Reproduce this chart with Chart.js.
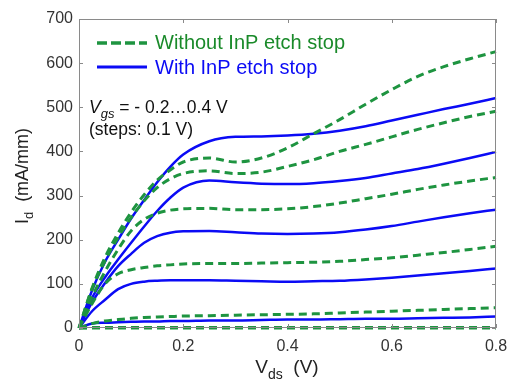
<!DOCTYPE html>
<html>
<head>
<meta charset="utf-8">
<script src="https://cdn.jsdelivr.net/npm/chart.js@4"></script>
<style>
  html, body { margin: 0; padding: 0; background: #fff; }
  #wrap { width: 508px; height: 390px; }
</style>
</head>
<body>
<div id="wrap"><canvas id="ivChart"></canvas></div>
<script>
// === Data ===
const vds = [0, 0.025, 0.05, 0.075, 0.1, 0.125, 0.15, 0.175, 0.2, 0.25, 0.3,
             0.35, 0.4, 0.45, 0.5, 0.55, 0.6, 0.65, 0.7, 0.75, 0.8];

// Without InP etch stop (dashed green), Vgs = 0.4 ... -0.2
const noStop1 = [0, 90, 160, 215, 262, 302, 335, 358, 376, 385, 376, 385, 408, 440, 472, 507, 540, 570, 592, 610, 626];
const noStop2 = [0, 88, 152, 205, 250, 288, 318, 338, 350, 356, 350, 353, 366, 381, 400, 416, 433, 450, 465, 479, 491];
const noStop3 = [0, 70, 128, 178, 220, 246, 260, 267, 270, 271, 268, 268, 270, 275, 283, 293, 303, 314, 324, 333, 341];
const noStop4 = [0, 55, 100, 123, 132, 137, 141, 143, 145, 146, 146, 147, 148, 149, 151, 155, 159, 165, 171, 178, 185];
const noStop5 = [0, 10, 16, 19, 22, 24, 25, 26, 27, 28, 29, 30, 31, 32, 34, 36, 38, 40, 42, 44, 46];
const noStop6 = [0, 1, 1, 1, 1, 1, 1, 1, 1, 1, 1, 1, 1, 1, 1, 1, 1, 1, 1, 1, 1];
const noStop7 = [0, 0, 0, 0, 0, 0, 0, 0, 0, 0, 0, 0, 0, 0, 0, 0, 0, 0, 0, 0, 0];

// With InP etch stop (solid blue)
const withStop1 = [0, 85, 150, 200, 248, 290, 330, 365, 393, 423, 433, 434, 436, 440, 447, 457, 470, 483, 496, 508, 521];
const withStop2 = [0, 68, 115, 155, 193, 230, 265, 295, 318, 334, 330, 327, 326, 328, 333, 340, 350, 360, 372, 385, 399];
const withStop3 = [0, 58, 102, 140, 168, 193, 208, 216, 219, 220, 217, 214, 213, 214, 217, 223, 231, 241, 251, 260, 268];
const withStop4 = [0, 38, 64, 88, 100, 105, 107, 108, 108, 108, 107, 106, 105, 106, 107, 110, 114, 119, 124, 129, 135];
const withStop5 = [0, 10, 12, 13, 14, 15, 15, 16, 16, 17, 17, 18, 19, 19, 20, 21, 21, 22, 23, 24, 26];

const xTicks = [0, 0.2, 0.4, 0.6, 0.8];
const yTicks = [0, 100, 200, 300, 400, 500, 600, 700];

const legendLabels = ["Without InP etch stop", "With InP etch stop"];

const GREEN = "#1e9440";
const GREEN_TEXT = "#1a8a2a";
const BLUE = "#0b0bf5";
const FONT = "'Liberation Sans', Arial, sans-serif";

function toPoints(arr) {
    return arr.map((v, i) => ({ x: vds[i], y: v }));
}

const greenSeries = [noStop1, noStop2, noStop3, noStop4, noStop5, noStop6, noStop7];
const blueSeries = [withStop1, withStop2, withStop3, withStop4, withStop5];

const datasets = [];
// green first so it is drawn on top
greenSeries.forEach(s => datasets.push({
    data: toPoints(s),
    borderColor: GREEN,
    borderWidth: 3,
    borderDash: [8, 5],
    pointRadius: 0,
    cubicInterpolationMode: "monotone",
    clip: false,
    fill: false
}));
blueSeries.forEach(s => datasets.push({
    data: toPoints(s),
    borderColor: BLUE,
    borderWidth: 2.5,
    pointRadius: 0,
    cubicInterpolationMode: "monotone",
    clip: false,
    fill: false
}));

// draws text pieces with optional subscript / italic
function drawRich(ctx, parts, x, y, size, color) {
    let cx = x;
    parts.forEach(p => {
        const fs = p.sub ? Math.round(size * 0.72) : size;
        ctx.font = (p.italic ? "italic " : "") + fs + "px " + FONT;
        ctx.fillStyle = color;
        ctx.fillText(p.t, cx, p.sub ? y + size * 0.3 : y);
        cx += ctx.measureText(p.t).width;
    });
    return cx - x;
}

function richWidth(ctx, parts, size) {
    let w = 0;
    parts.forEach(p => {
        const fs = p.sub ? Math.round(size * 0.72) : size;
        ctx.font = (p.italic ? "italic " : "") + fs + "px " + FONT;
        w += ctx.measureText(p.t).width;
    });
    return w;
}

const decorations = {
    id: "decorations",
    afterDraw(chart) {
        const ctx = chart.ctx;
        const a = chart.chartArea;
        const xs = chart.scales.x, ys = chart.scales.y;
        ctx.save();

        // axes box
        ctx.strokeStyle = "#8a8a8a";
        ctx.lineWidth = 1;
        ctx.strokeRect(a.left + 0.5, a.top + 0.5, a.right - a.left - 1, a.bottom - a.top - 1);

        // inward ticks
        ctx.beginPath();
        xTicks.forEach(v => {
            const px = Math.round(xs.getPixelForValue(v)) + 0.5;
            ctx.moveTo(px, a.bottom); ctx.lineTo(px, a.bottom - 4);
            ctx.moveTo(px, a.top); ctx.lineTo(px, a.top + 4);
        });
        yTicks.forEach(v => {
            const py = Math.round(ys.getPixelForValue(v)) + 0.5;
            ctx.moveTo(a.left, py); ctx.lineTo(a.left + 4, py);
            ctx.moveTo(a.right, py); ctx.lineTo(a.right - 4, py);
        });
        ctx.stroke();

        // legend
        ctx.lineWidth = 3.5;
        ctx.strokeStyle = GREEN;
        ctx.setLineDash([10, 4]);
        ctx.beginPath(); ctx.moveTo(97, 43); ctx.lineTo(147, 43); ctx.stroke();
        ctx.setLineDash([]);
        ctx.strokeStyle = BLUE;
        ctx.lineWidth = 3;
        ctx.beginPath(); ctx.moveTo(97, 67); ctx.lineTo(147, 67); ctx.stroke();
        ctx.textBaseline = "alphabetic";
        ctx.textAlign = "left";
        ctx.font = "20px " + FONT;
        ctx.fillStyle = GREEN_TEXT;
        ctx.fillText(legendLabels[0], 155, 49);
        ctx.fillStyle = BLUE;
        ctx.fillText(legendLabels[1], 155, 74);

        // annotation
        drawRich(ctx, [
            { t: "V", italic: true },
            { t: "gs", italic: true, sub: true },
            { t: " = - 0.2\u20260.4 V" }
        ], 89, 113, 17.5, "#111");
        ctx.font = "17.5px " + FONT;
        ctx.fillStyle = "#111";
        ctx.fillText("(steps: 0.1 V)", 89, 135);

        // x title
        const xParts = [{ t: "V" }, { t: "ds", sub: true }, { t: "  (V)" }];
        const xw = richWidth(ctx, xParts, 19);
        drawRich(ctx, xParts, 287 - xw / 2, 373, 19, "#222");

        // y title
        const yParts = [{ t: "I" }, { t: "d", sub: true }, { t: "  (mA/mm)" }];
        const yw = richWidth(ctx, yParts, 18);
        ctx.translate(28, 176);
        ctx.rotate(-Math.PI / 2);
        drawRich(ctx, yParts, -yw / 2, 0, 18, "#222");

        ctx.restore();
    }
};

new Chart(document.getElementById("ivChart").getContext("2d"), {
    type: "line",
    data: { datasets: datasets },
    options: {
        responsive: true,
        maintainAspectRatio: false,
        animation: false,
        layout: { padding: { left: 0, right: 12, top: 19, bottom: 0 } },
        plugins: {
            legend: { display: false },
            tooltip: { enabled: false }
        },
        scales: {
            x: {
                type: "linear",
                min: 0,
                max: 0.8,
                afterBuildTicks: s => { s.ticks = xTicks.map(v => ({ value: v })); },
                afterFit: s => { s.height = 62; s.paddingLeft = 0; s.paddingRight = 0; },
                ticks: {
                    color: "#333",
                    font: { family: FONT, size: 16 },
                    padding: 9,
                    maxRotation: 0,
                    callback: v => (v === 0 ? "0" : v.toFixed(1))
                },
                grid: { display: false, drawTicks: false },
                border: { display: false }
            },
            y: {
                min: 0,
                max: 700,
                afterBuildTicks: s => { s.ticks = yTicks.map(v => ({ value: v })); },
                afterFit: s => { s.width = 79; s.paddingTop = 0; s.paddingBottom = 0; },
                ticks: {
                    color: "#333",
                    font: { family: FONT, size: 16 },
                    padding: 6
                },
                grid: { display: false, drawTicks: false },
                border: { display: false }
            }
        }
    },
    plugins: [decorations]
});
</script>
</body>
</html>
